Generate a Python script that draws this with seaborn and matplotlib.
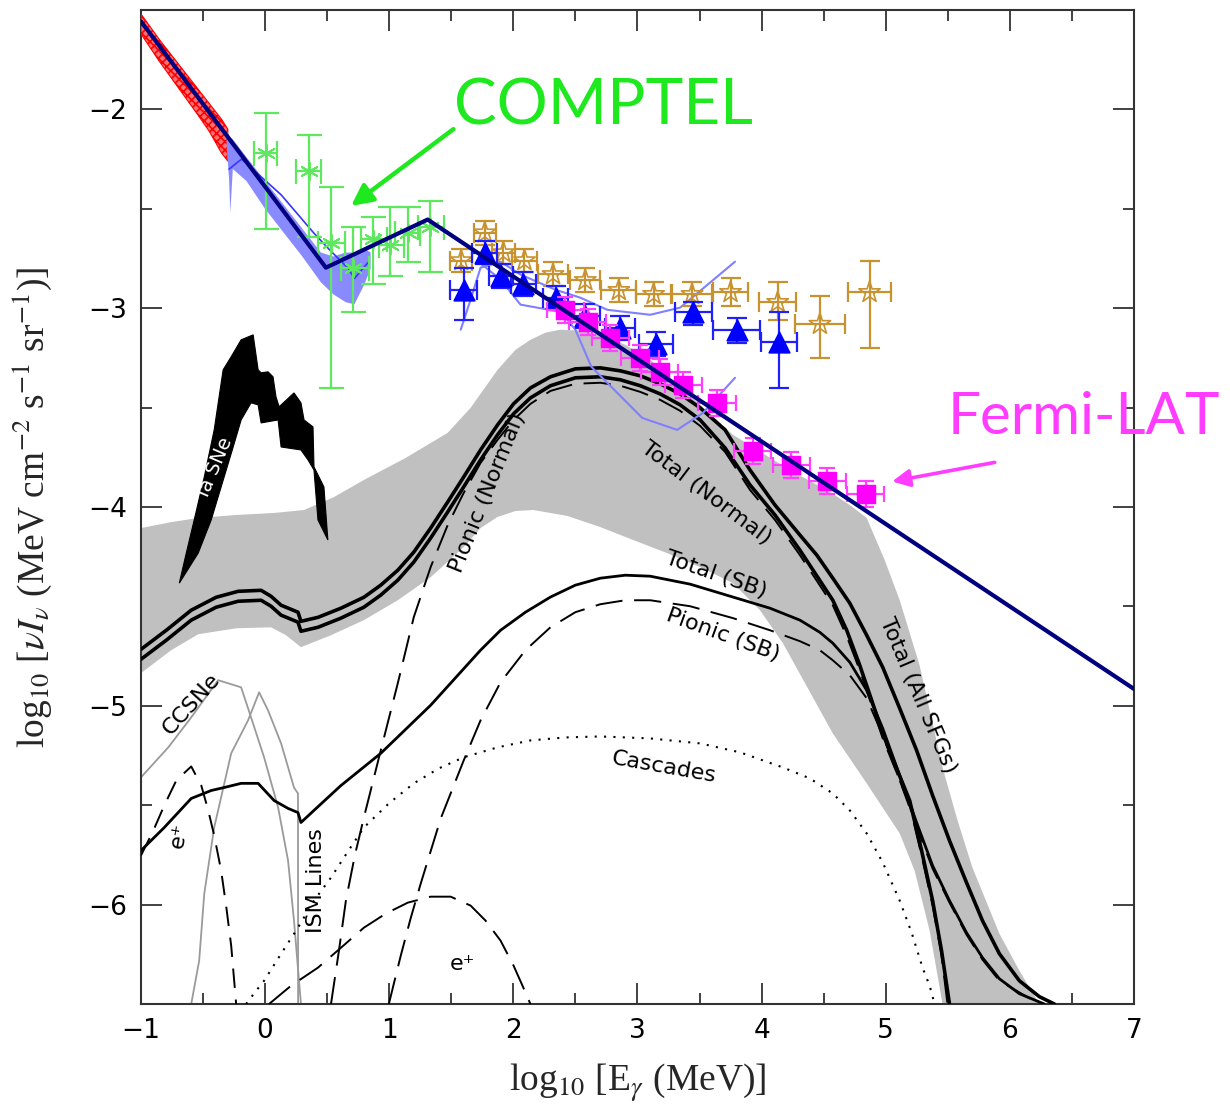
import numpy as np
import pandas as pd
import matplotlib
matplotlib.use("Agg")
import matplotlib.pyplot as plt
from matplotlib.ticker import MultipleLocator
import seaborn as sns

# ---------------- data (data units) ----------------
# broken power-law fit (navy)
fit_x = [-1.0, 0.49, 1.31, 7.0]
fit_y = [-1.557, -2.796, -2.554, -4.915]

# red hatched data band (low energy)
red_x = [-1.0, -0.85, -0.7, -0.55, -0.45, -0.35, -0.30]
red_hi = [-1.52, -1.65, -1.77, -1.89, -1.97, -2.05, -2.10]
red_lo = [-1.62, -1.76, -1.89, -2.02, -2.11, -2.22, -2.26]

# light-blue data band
blue_x = [-0.31, -0.29, -0.28, -0.26, -0.15, 0.0, 0.15, 0.3, 0.45, 0.55, 0.65, 0.72, 0.8, 0.85]
blue_hi = [-2.11, -2.13, -2.14, -2.15, -2.24, -2.36, -2.48, -2.60, -2.72, -2.74, -2.72, -2.72, -2.70, -2.72]
blue_lo = [-2.18, -2.35, -2.52, -2.30, -2.36, -2.50, -2.62, -2.74, -2.87, -2.93, -2.97, -2.98, -2.88, -2.80]
blue_mid_x = [-0.29, -0.19, 0.13, 0.39, 0.51, 0.67, 0.72, 0.83]
blue_mid_y = [-2.30, -2.25, -2.43, -2.62, -2.70, -2.80, -2.85, -2.77]

# COMPTEL
comptel_x = [0.01, 0.35, 0.53, 0.71, 0.87, 1.01, 1.15, 1.33]
comptel_y = [-2.22, -2.31, -2.67, -2.80, -2.65, -2.68, -2.62, -2.59]
comptel_y_hi = [-2.02, -2.13, -2.39, -2.59, -2.54, -2.49, -2.49, -2.46]
comptel_y_lo = [-2.60, -2.64, -3.40, -3.02, -2.88, -2.84, -2.77, -2.82]
comptel_x_lo = [-0.09, 0.25, 0.43, 0.61, 0.77, 0.92, 1.05, 1.23]
comptel_x_hi = [0.10, 0.45, 0.64, 0.84, 0.98, 1.12, 1.25, 1.44]

# brown open stars
star_x = [1.58, 1.77, 1.92, 2.09, 2.32, 2.58, 2.85, 3.13, 3.44, 3.75, 4.13, 4.47, 4.87]
star_y = [-2.76, -2.62, -2.72, -2.76, -2.83, -2.86, -2.91, -2.93, -2.93, -2.92, -2.97, -3.08, -2.92]
star_yerr_lo = [0.06, 0.06, 0.06, 0.06, 0.06, 0.06, 0.06, 0.06, 0.06, 0.07, 0.09, 0.17, 0.28]
star_yerr_hi = [0.06, 0.06, 0.06, 0.06, 0.06, 0.06, 0.06, 0.06, 0.06, 0.07, 0.10, 0.14, 0.16]
star_xerr = [0.09, 0.09, 0.09, 0.1, 0.12, 0.12, 0.14, 0.14, 0.16, 0.14, 0.15, 0.2, 0.17]

# blue triangles
tri_x = [1.60, 1.77, 1.90, 2.08, 2.34, 2.58, 2.86, 3.15, 3.45, 3.80, 4.14]
tri_y = [-2.91, -2.72, -2.84, -2.88, -2.95, -3.04, -3.10, -3.18, -3.02, -3.11, -3.17]
tri_yerr_lo = [0.15, 0.06, 0.06, 0.06, 0.06, 0.06, 0.06, 0.06, 0.065, 0.065, 0.23]
tri_yerr_hi = [0.11, 0.06, 0.06, 0.06, 0.06, 0.06, 0.06, 0.06, 0.05, 0.06, 0.15]
tri_xerr = [0.11, 0.1, 0.1, 0.1, 0.1, 0.12, 0.12, 0.14, 0.15, 0.19, 0.145]

# Fermi-LAT squares
lat_x = [2.42, 2.60, 2.78, 3.02, 3.18, 3.37, 3.64, 3.93, 4.24, 4.53, 4.84]
lat_y = [-3.01, -3.07, -3.15, -3.25, -3.32, -3.385, -3.476, -3.72, -3.79, -3.87, -3.935]
lat_yerr = [0.065] * 11
lat_xerr = [0.15] * 11

# thin light-blue band edges
tb_up_x = [1.576, 1.656, 1.736, 1.897, 2.058, 2.339, 2.54, 2.757, 3.103, 3.344, 3.545, 3.786]
tb_up_y = [-3.108, -2.957, -2.796, -2.766, -2.831, -2.907, -2.947, -3.008, -3.033, -2.997, -2.892, -2.766]
tb_lo_x = [1.72, 1.897, 2.058, 2.379, 2.5, 2.629, 2.838, 3.039, 3.32, 3.529, 3.786]
tb_lo_y = [-2.766, -2.856, -2.982, -3.018, -3.108, -3.295, -3.426, -3.552, -3.612, -3.526, -3.35]

# grey uncertainty band
band_up_x = [-1.0, -0.756, -0.539, -0.233, 0.072, 0.314, 0.555, 0.796, 1.133, 1.471, 1.656, 1.873, 2.018, 2.138,
             2.259, 2.379, 2.54, 2.701, 2.902, 3.103, 3.304, 3.505, 3.77, 4.228, 4.55, 4.711, 4.847, 4.992,
             5.113, 5.273, 5.458, 5.579, 5.699, 5.916, 6.077, 6.238]
band_up_y = [-4.106, -4.076, -4.055, -4.04, -4.03, -4.015, -3.95, -3.864, -3.753, -3.627, -3.501, -3.31, -3.209, -3.159,
             -3.123, -3.108, -3.113, -3.134, -3.184, -3.259, -3.37, -3.486, -3.637, -3.814, -3.924, -3.99, -4.055, -4.267,
             -4.469, -4.796, -5.31, -5.577, -5.814, -6.146, -6.332, -6.5]
band_lo_x = [-1.0, -0.756, -0.539, -0.233, 0.048, 0.169, 0.289, 0.531, 0.796, 1.069, 1.334, 1.6, 1.736, 1.873, 2.018,
             2.162, 2.436, 2.701, 2.966, 3.24, 3.505, 3.77, 3.987, 4.172, 4.373, 4.574, 4.847, 5.113, 5.233, 5.354, 5.458]
band_lo_y = [-4.836, -4.72, -4.64, -4.61, -4.605, -4.645, -4.705, -4.645, -4.569, -4.469, -4.353, -4.202, -4.106, -4.05,
             -4.02, -4.015, -4.045, -4.101, -4.166, -4.232, -4.302, -4.383, -4.519, -4.685, -4.912, -5.139, -5.39, -5.642,
             -5.829, -6.131, -6.5]

# Ia SNe black region (outer edge left->right, inner edge right->left)
ia_out_x = [-0.691, -0.635, -0.571, -0.49, -0.41, -0.338, -0.273, -0.193, -0.096, -0.056, -0.032, 0.024, 0.064,
            0.088, 0.113, 0.233, 0.289, 0.314, 0.386, 0.394, 0.474, 0.506]
ia_out_y = [-4.383, -4.232, -4.065, -3.849, -3.612, -3.31, -3.244, -3.159, -3.134, -3.31, -3.325, -3.32, -3.345,
            -3.446, -3.496, -3.426, -3.476, -3.562, -3.597, -3.798, -3.899, -4.166]
ia_in_x = [0.426, 0.394, 0.346, 0.289, 0.129, 0.105, -0.032, -0.056, -0.113, -0.193, -0.257, -0.354, -0.434, -0.539]
ia_in_y = [-4.065, -3.814, -3.763, -3.713, -3.698, -3.562, -3.577, -3.486, -3.476, -3.562, -3.698, -3.899, -4.065, -4.232]

# model curves
tot_norm_x = [-1.0, -0.796, -0.595, -0.394, -0.217, -0.032, 0.048, 0.129, 0.265, 0.289, 0.426, 0.611, 0.796, 0.932,
              1.069, 1.198, 1.334, 1.471, 1.6, 1.736, 1.873, 2.002, 2.138, 2.299, 2.5, 2.701, 2.862, 3.023, 3.183,
              3.344, 3.505, 3.706, 3.907, 4.108, 4.309, 4.574, 4.686, 4.791, 4.887, 4.976, 5.088, 5.193, 5.289,
              5.378, 5.45, 5.514]
tot_norm_y = [-4.766, -4.67, -4.569, -4.504, -4.474, -4.469, -4.499, -4.544, -4.579, -4.625, -4.605, -4.559, -4.504,
              -4.443, -4.368, -4.277, -4.156, -4.025, -3.899, -3.763, -3.637, -3.531, -3.451, -3.39, -3.35, -3.345,
              -3.36, -3.39, -3.431, -3.486, -3.562, -3.703, -3.889, -4.04, -4.217, -4.469, -4.62, -4.796, -4.972,
              -5.139, -5.315, -5.476, -5.728, -5.98, -6.232, -6.5]

tot_all_x = [-1.0, -0.796, -0.595, -0.394, -0.217, -0.032, 0.048, 0.129, 0.265, 0.289, 0.426, 0.611, 0.796, 0.932,
             1.069, 1.198, 1.334, 1.471, 1.6, 1.736, 1.873, 2.002, 2.138, 2.299, 2.5, 2.701, 2.862, 3.023, 3.183,
             3.344, 3.505, 3.706, 3.907, 4.108, 4.309, 4.445, 4.574, 4.711, 4.847, 4.976, 5.113, 5.249, 5.378,
             5.514, 5.651, 5.78, 5.916, 6.077, 6.238, 6.359]
tot_all_y = [-4.716, -4.62, -4.519, -4.454, -4.424, -4.419, -4.449, -4.494, -4.529, -4.575, -4.555, -4.509, -4.454,
             -4.393, -4.318, -4.227, -4.106, -3.975, -3.849, -3.713, -3.587, -3.481, -3.401, -3.345, -3.305, -3.3,
             -3.315, -3.34, -3.38, -3.431, -3.501, -3.612, -3.814, -3.99, -4.141, -4.242, -4.358, -4.484, -4.645,
             -4.806, -5.013, -5.224, -5.451, -5.678, -5.889, -6.081, -6.247, -6.383, -6.463, -6.5]

pion_norm_x = [0.531, 0.595, 0.651, 0.723, 0.796, 0.932, 1.069, 1.198, 1.334, 1.471, 1.6, 1.736, 1.873, 2.002, 2.138,
               2.299, 2.5, 2.701, 2.862, 3.023, 3.183, 3.344, 3.505, 3.706, 3.907, 4.108, 4.309, 4.574, 4.686,
               4.791, 4.887, 4.976, 5.088, 5.193, 5.289, 5.378, 5.45, 5.498]
pion_norm_y = [-6.5, -6.232, -5.98, -5.753, -5.562, -5.224, -4.887, -4.554, -4.302, -4.091, -3.929, -3.778, -3.662,
               -3.562, -3.481, -3.416, -3.38, -3.375, -3.39, -3.421, -3.461, -3.516, -3.592, -3.723, -3.914, -4.065,
               -4.242, -4.494, -4.65, -4.821, -4.997, -5.164, -5.335, -5.501, -5.753, -6.005, -6.257, -6.5]

tot_sb_x = [-1.0, -0.812, -0.595, -0.434, -0.33, -0.193, -0.056, 0.072, 0.185, 0.265, 0.289, 0.394, 0.611, 0.932,
            1.334, 1.736, 1.897, 2.098, 2.299, 2.5, 2.701, 2.902, 3.103, 3.424, 3.77, 4.068, 4.309, 4.469, 4.574,
            4.711, 4.847, 4.976, 5.113, 5.249, 5.378, 5.514, 5.651, 5.78, 5.916, 6.077, 6.278]
tot_sb_y = [-5.728, -5.612, -5.466, -5.426, -5.411, -5.39, -5.39, -5.476, -5.516, -5.537, -5.587, -5.526, -5.401,
            -5.239, -4.997, -4.72, -4.62, -4.529, -4.453, -4.393, -4.358, -4.343, -4.348, -4.388, -4.453, -4.509,
            -4.569, -4.63, -4.685, -4.781, -4.922, -5.113, -5.35, -5.587, -5.804, -5.98, -6.141, -6.267, -6.373,
            -6.448, -6.5]

pion_sb_x = [0.997, 1.093, 1.174, 1.254, 1.415, 1.6, 1.736, 1.897, 2.098, 2.299, 2.5, 2.701, 2.902, 3.103, 3.424,
             3.77, 4.068, 4.309, 4.469, 4.574, 4.711, 4.847, 4.976, 5.113, 5.249, 5.378, 5.514, 5.651, 5.78, 5.916,
             6.238]
pion_sb_y = [-6.5, -6.257, -6.066, -5.894, -5.567, -5.275, -5.073, -4.882, -4.72, -4.605, -4.529, -4.489, -4.469,
             -4.469, -4.499, -4.559, -4.62, -4.675, -4.72, -4.771, -4.846, -4.962, -5.149, -5.375, -5.607, -5.819,
             -5.99, -6.151, -6.277, -6.383, -6.5]

casc_x = [-0.153, -0.072, -0.008, 0.129, 0.265, 0.394, 0.531, 0.667, 0.796, 0.997, 1.198, 1.399, 1.6, 1.873, 2.138,
          2.42, 2.701, 3.103, 3.505, 3.826, 4.172, 4.389, 4.574, 4.711, 4.847, 4.976, 5.113, 5.209, 5.297, 5.354,
          5.394]
casc_y = [-6.5, -6.433, -6.383, -6.247, -6.116, -5.98, -5.864, -5.733, -5.612, -5.491, -5.39, -5.315, -5.259, -5.209,
          -5.174, -5.159, -5.154, -5.164, -5.189, -5.234, -5.31, -5.365, -5.441, -5.526, -5.642, -5.788, -5.98,
          -6.141, -6.317, -6.408, -6.5]

epos_hi_x = [0.032, 0.209, 0.426, 0.611, 0.796, 0.973, 1.15, 1.334, 1.495, 1.656, 1.777, 1.897, 2.002, 2.074, 2.138]
epos_hi_y = [-6.5, -6.408, -6.317, -6.217, -6.116, -6.045, -5.99, -5.96, -5.96, -6.005, -6.081, -6.181, -6.307,
             -6.408, -6.5]

epos_lo_x = [-1.0, -0.9, -0.812, -0.715, -0.595, -0.514, -0.458, -0.41, -0.354, -0.314, -0.273, -0.233]
epos_lo_y = [-5.753, -5.627, -5.501, -5.375, -5.305, -5.401, -5.526, -5.652, -5.829, -6.005, -6.207, -6.5]

ccsne_x = [-1.0, -0.78, -0.595, -0.378, -0.193, -0.113, -0.008, 0.105, 0.185, 0.233, 0.289]
ccsne_y = [-5.36, -5.209, -5.058, -4.871, -4.907, -5.058, -5.259, -5.511, -5.778, -6.081, -6.5]

ism_x = [-0.595, -0.531, -0.49, -0.41, -0.273, -0.137, -0.048, 0.024, 0.129, 0.233, 0.265, 0.266]
ism_y = [-6.5, -6.282, -5.945, -5.612, -5.239, -5.073, -4.932, -5.023, -5.189, -5.411, -5.441, -6.5]

# ---------------- style ----------------
sns.set_theme(style="ticks")
plt.rcParams["font.family"] = ["DejaVu Sans"]
plt.rcParams["mathtext.fontset"] = "stix"
plt.rcParams["hatch.linewidth"] = 1.2

fig = plt.figure(figsize=(12.3, 11.12), dpi=100)
ax = fig.add_axes([0.1146, 0.0971, 0.8073, 0.8939])
ax.set_xlim(-1, 7)
ax.set_ylim(-6.5, -1.5)


def curve(x, y, dashes=None, **kw):
    sns.lineplot(x=x, y=y, ax=ax, sort=False, estimator=None, legend=False, **kw)
    ln = ax.lines[-1]
    ln.set_solid_joinstyle("round")
    ln.set_dash_joinstyle("round")
    if dashes is not None:
        ln.set_linestyle((0, dashes))
    return ln


# grey band
ax.fill(band_up_x + band_lo_x[::-1], band_up_y + band_lo_y[::-1],
        facecolor="#c0c0c0", edgecolor="none", zorder=1)

# Ia SNe
ax.fill(ia_out_x + ia_in_x, ia_out_y + ia_in_y, facecolor="black", edgecolor="black", lw=0.8, zorder=2)

# thin grey lines
curve(ccsne_x, ccsne_y, color="#9a9a9a", lw=1.3, zorder=2)
curve(ism_x, ism_y, color="#9a9a9a", lw=1.3, zorder=2)

# model curves
curve(tot_norm_x, tot_norm_y, color="black", lw=2.6, zorder=3)
curve(tot_all_x, tot_all_y, color="black", lw=2.6, zorder=3)
curve(pion_norm_x, pion_norm_y, dashes=(14, 6), color="black", lw=1.4, zorder=3)
curve(tot_sb_x, tot_sb_y, color="black", lw=2.0, zorder=3)
curve(pion_sb_x, pion_sb_y, dashes=(14, 6), color="black", lw=1.4, zorder=3)
curve(casc_x, casc_y, dashes=(1, 3.5), color="black", lw=1.5, zorder=3)
curve(epos_hi_x, epos_hi_y, dashes=(14, 6), color="black", lw=1.4, zorder=3)
curve(epos_lo_x, epos_lo_y, dashes=(10, 6), color="black", lw=1.4, zorder=3)

# red hatched band
ax.fill_between(red_x, red_lo, red_hi, facecolor="#ff7070", edgecolor="#ff0000",
                hatch="xxxx", lw=0.8, zorder=4)

# light-blue band
ax.fill_between(blue_x, blue_lo, blue_hi, facecolor="#8a8aff", edgecolor="none", zorder=4)
curve(blue_mid_x, blue_mid_y, color="#3535ff", lw=1.2, zorder=4)

# thin blue band edges
curve(tb_up_x, tb_up_y, color="#8080ff", lw=1.5, zorder=4)
curve(tb_lo_x, tb_lo_y, color="#8080ff", lw=1.5, zorder=4)

# COMPTEL
cx = np.array(comptel_x); cy = np.array(comptel_y)
ax.errorbar(cx, cy,
            yerr=[cy - np.array(comptel_y_lo), np.array(comptel_y_hi) - cy],
            xerr=[cx - np.array(comptel_x_lo), np.array(comptel_x_hi) - cx],
            fmt="none", ecolor="#5ee85e", elinewidth=1.6, capsize=9, capthick=1.6, zorder=5)
sns.scatterplot(x=comptel_x, y=comptel_y, ax=ax, marker=(6, 2, 0), s=160,
                color="#5ee85e", linewidth=1.4, zorder=5, legend=False)

# brown stars
ax.errorbar(star_x, star_y, yerr=[star_yerr_lo, star_yerr_hi], xerr=star_xerr,
            fmt="none", ecolor="#c8922e", elinewidth=1.6, capsize=7, capthick=1.6, zorder=5)
sns.scatterplot(x=star_x, y=star_y, ax=ax, marker="*", s=260, facecolor="none",
                edgecolor="#c8922e", linewidth=1.2, zorder=5, legend=False)

# blue triangles
ax.errorbar(tri_x, tri_y, yerr=[tri_yerr_lo, tri_yerr_hi], xerr=tri_xerr,
            fmt="none", ecolor="#2020ff", elinewidth=1.6, capsize=7, capthick=1.6, zorder=5)
sns.scatterplot(x=tri_x, y=tri_y, ax=ax, marker="^", s=220, color="#0000ff",
                edgecolor="#0000ff", zorder=5, legend=False)

# Fermi-LAT squares
ax.errorbar(lat_x, lat_y, yerr=lat_yerr, xerr=lat_xerr,
            fmt="none", ecolor="#ff40ff", elinewidth=1.6, capsize=6, capthick=1.6, zorder=5)
sns.scatterplot(x=lat_x, y=lat_y, ax=ax, marker="s", s=170, color="#ff00ff",
                edgecolor="#ff00ff", zorder=5, legend=False)

# broken power law
curve(fit_x, fit_y, color="#000080", lw=3.0, zorder=6)

# ---------------- text labels ----------------
lab = dict(fontsize=16, color="black", ha="center", va="center",
           rotation_mode="anchor", zorder=7, family=["DejaVu Sans"])
ax.text(-0.40, -3.80, "Ia SNe", rotation=67, **{**lab, "color": "white", "fontsize": 14})
ax.text(1.79, -3.93, "Pionic (Normal)", rotation=68, **lab)
ax.text(3.55, -3.93, "Total (Normal)", rotation=-37, **lab)
ax.text(3.63, -4.34, "Total (SB)", rotation=-19, **lab)
ax.text(3.69, -4.645, "Pionic (SB)", rotation=-20, **lab)
ax.text(5.26, -4.95, "Total (All SFGs)", rotation=-67, **lab)
ax.text(3.21, -5.31, "Cascades", rotation=-10, **lab)
ax.text(-0.59, -4.99, "CCSNe", rotation=48, **lab)
ax.text(-0.69, -5.65, "e⁺", rotation=80, **lab)
ax.text(0.41, -5.88, "ISM Lines", rotation=90, **lab)
ax.text(1.59, -6.30, "e⁺", rotation=0, **lab)

# COMPTEL / Fermi-LAT annotations
ax.annotate("", xy=(0.675, -2.494), xytext=(1.535, -2.091),
            arrowprops=dict(arrowstyle="-|>", lw=3.2, color="#1ee81e", mutation_scale=32),
            zorder=8)
ax.text(2.73, -1.985, "COMPTEL", fontsize=46, color="#1ee81e", ha="center", va="center",
        family=["Lato", "DejaVu Sans"], zorder=8)
ax.annotate("", xy=(5.03, -3.874), xytext=(5.90, -3.773),
            arrowprops=dict(arrowstyle="-|>", lw=2.6, color="#ff3cff", mutation_scale=26),
            zorder=8, annotation_clip=False)
ax.text(6.6, -3.552, "Fermi-LAT", fontsize=42, color="#ff3cff", ha="center", va="center",
        family=["Lato", "DejaVu Sans"], zorder=8, clip_on=False)

# ---------------- axes ----------------
ax.set_xticks(range(-1, 8))
ax.set_yticks([-6, -5, -4, -3, -2])
ax.xaxis.set_minor_locator(MultipleLocator(0.5))
ax.yaxis.set_minor_locator(MultipleLocator(0.5))
ax.tick_params(which="both", direction="in", top=True, right=True, colors="#333333",
               labelcolor="black", labelsize=19, width=1.3)
ax.tick_params(which="major", length=15, pad=10)
ax.tick_params(which="minor", length=8)
for s in ax.spines.values():
    s.set_linewidth(1.5)
    s.set_color("#333333")
    s.set_visible(True)

ax.set_xlabel(r"log$_{10}$ [E$_{\gamma}$ (MeV)]", fontsize=27, family=["Liberation Serif"])
ax.set_ylabel(r"log$_{10}$ [$\nu I_{\nu}$ (MeV cm$^{-2}$ s$^{-1}$ sr$^{-1}$)]", fontsize=27,
              family=["Liberation Serif"])
ax.xaxis.set_label_coords(0.5, -0.058)
ax.yaxis.set_label_coords(-0.088, 0.5)

fig.savefig("out.png", dpi=100)
